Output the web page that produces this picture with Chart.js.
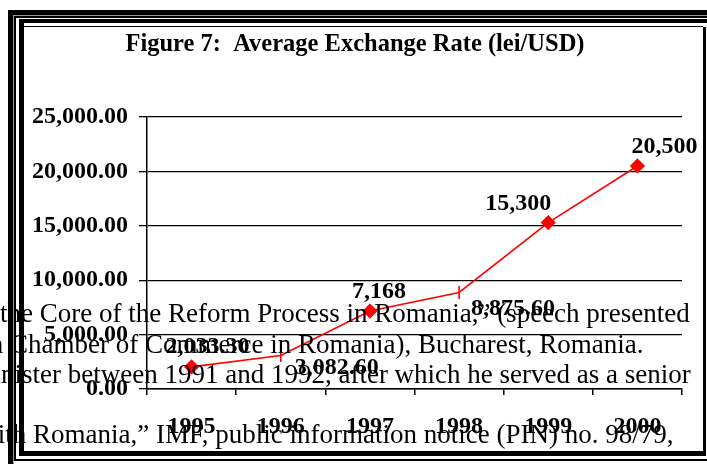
<!DOCTYPE html>
<html><head><meta charset="utf-8">
<script src="https://cdn.jsdelivr.net/npm/chart.js@4"></script>
<style>
html,body{margin:0;padding:0;background:#fff;width:707px;height:464px;overflow:hidden;}
canvas{display:block;}
</style></head>
<body>
<canvas id="c" width="707" height="464"></canvas>
<script>
// ---- data ----
const categories = ['1995', '1996', '1997', '1998', '1999', '2000'];
const exchangeRate = [2033.30, 3082.60, 7168, 8875.60, 15300, 20500];
const valueLabels = ['2,033.30', '3,082.60', '7,168', '8,875.60', '15,300', '20,500'];
const yTickValues = [0, 5000, 10000, 15000, 20000, 25000];
const chartTitle = 'Figure 7:  Average Exchange Rate (lei/USD)';
const backgroundLines = [
  { before: '', text: 'the Core of the Reform Process in Romania,\u201d (speech presented' },
  { before: 'American ', text: 'Chamber of Commerce in Romania), Bucharest, Romania.' },
  { before: 'Mi', text: 'nister between 1991 and 1992, after which he served as a senior' },
  { before: 'with ', text: 'Romania,\u201d IMF, public information notice (PIN) no. 98/79,' }
];

// ---- styling / placement (not data) ----
const SERIF = "'Liberation Serif', 'Times New Roman', serif";
const RED = '#ff0000';
const markerStyles = ['rectRot', 'line', 'rectRot', 'line', 'rectRot', 'rectRot'];
const markerRotation = [0, 90, 0, 90, 0, 0];
const labelOffsets = [[16, -20], [56, 12], [9, -19], [54, 16], [-30, -19], [27, -19]];
const bgTextPos = [[0, 321.7], [10, 353], [1, 382.7], [33, 443]];

const decor = {
  id: 'decor',
  beforeDraw(chart) {
    const ctx = chart.ctx;
    ctx.save();
    ctx.fillStyle = '#fff';
    ctx.fillRect(0, 0, chart.width, chart.height);
    ctx.restore();
  },
  afterDatasetsDraw(chart) {
    const ctx = chart.ctx;
    const meta = chart.getDatasetMeta(0);
    ctx.save();
    ctx.font = 'bold 24px ' + SERIF;
    ctx.fillStyle = '#000';
    ctx.textAlign = 'center';
    ctx.textBaseline = 'middle';
    meta.data.forEach((pt, i) => {
      const o = labelOffsets[i];
      ctx.fillText(valueLabels[i], pt.x + o[0], pt.y + o[1]);
    });
    ctx.restore();
  },
  afterDraw(chart) {
    const ctx = chart.ctx;
    ctx.save();
    // title
    ctx.font = 'bold 24.5px ' + SERIF;
    ctx.fillStyle = '#000';
    ctx.textAlign = 'center';
    ctx.textBaseline = 'alphabetic';
    ctx.fillText(chartTitle, 355, 51);
    // overlapping document text
    ctx.font = '27px ' + SERIF;
    backgroundLines.forEach((l, i) => {
      const [x, y] = bgTextPos[i];
      ctx.textAlign = 'right';
      if (l.before) ctx.fillText(l.before, x, y);
      ctx.textAlign = 'left';
      ctx.fillText(l.text, x, y);
    });
    // frames
    ctx.fillStyle = '#000';
    ctx.fillRect(8, 10, 707, 5);     // outer top
    ctx.fillRect(8, 10, 5, 464);     // outer left
    ctx.fillStyle = '#999';
    ctx.fillRect(13, 15, 707, 1);
    ctx.fillRect(13, 15, 1, 464);
    ctx.fillStyle = '#000';
    ctx.fillRect(14, 16, 707, 2);
    ctx.fillRect(14, 16, 2, 444);
    ctx.fillRect(14, 459, 707, 2);   // thin bottom
    ctx.fillRect(19, 19, 707, 4);    // inner top
    ctx.fillRect(19, 19, 5, 437);    // inner left
    ctx.fillRect(703, 27, 3, 429);   // inner right
    ctx.fillRect(19, 451, 687, 5);   // inner bottom
    ctx.fillRect(24, 26, 679, 1);
    ctx.restore();
  }
};

new Chart(document.getElementById('c'), {
  type: 'line',
  data: {
    labels: categories,
    datasets: [{
      data: exchangeRate,
      borderColor: RED,
      backgroundColor: RED,
      borderWidth: 1.6,
      tension: 0,
      fill: false,
      pointStyle: markerStyles,
      pointRotation: markerRotation,
      pointRadius: 6.5,
      pointBorderWidth: 1.6,
      pointBorderColor: RED,
      pointBackgroundColor: RED
    }]
  },
  options: {
    responsive: false,
    animation: false,
    devicePixelRatio: 1,
    layout: { padding: { top: 117, right: 25, left: 0, bottom: 0 } },
    plugins: { legend: { display: false }, title: { display: false }, tooltip: { enabled: false } },
    scales: {
      x: {
        type: 'category',
        offset: true,
        grid: {
          offset: true,
          drawOnChartArea: true,
          color: (c) => (c.index === categories.length ? '#000' : 'rgba(0,0,0,0)'),
          tickColor: '#000',
          tickLength: 6,
          lineWidth: 1.5
        },
        border: { display: true, color: '#000', width: 1.5 },
        ticks: { color: '#000', font: { family: SERIF, size: 24, weight: 'bold' }, padding: 17, maxRotation: 0 },
        afterFit: (s) => { s.height = 75; }
      },
      y: {
        min: 0,
        max: 25000,
        afterBuildTicks: (s) => { s.ticks = yTickValues.map(v => ({ value: v })); },
        grid: { color: '#000', lineWidth: 1.3, tickLength: 8, tickColor: '#000' },
        border: { display: true, color: '#000', width: 1.5 },
        ticks: {
          color: '#000',
          font: { family: SERIF, size: 24, weight: 'bold' },
          padding: 11,
          callback: (v) => Number(v).toLocaleString('en-US', { minimumFractionDigits: 2, maximumFractionDigits: 2 })
        },
        afterFit: (s) => { s.width = 147; }
      }
    }
  },
  plugins: [decor]
});
</script>
</body></html>
